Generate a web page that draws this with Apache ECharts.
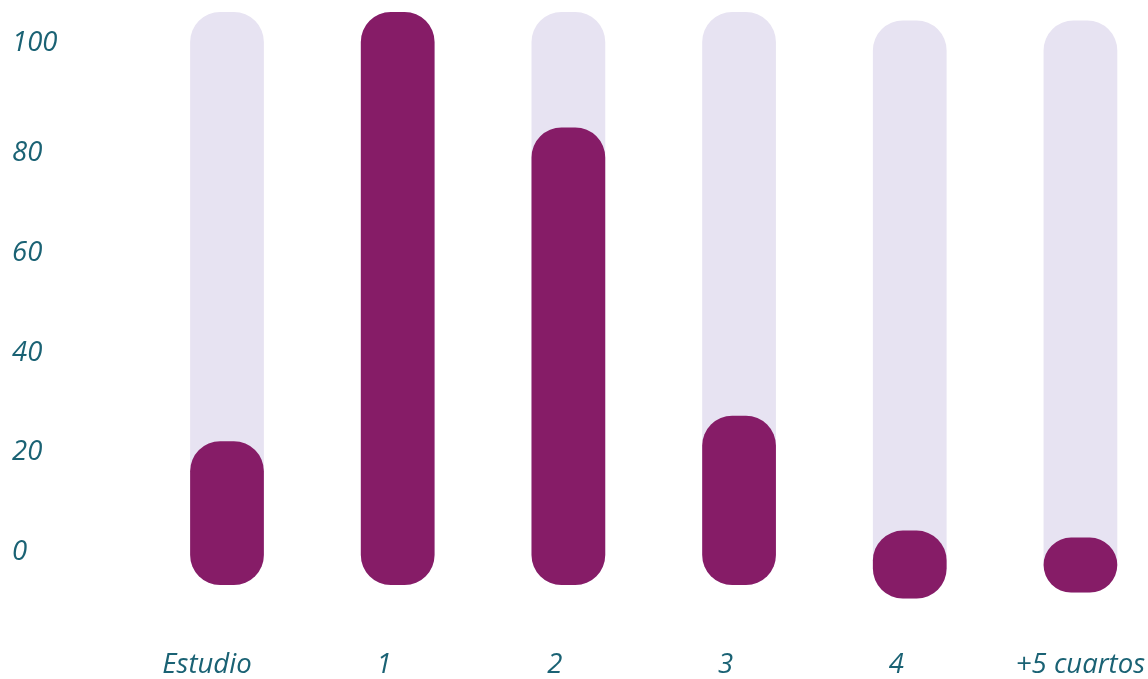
<!DOCTYPE html>
<html>
<head>
<meta charset="utf-8">
<script src="https://cdn.jsdelivr.net/npm/echarts@6/dist/echarts.min.js"></script>
<style>
  html, body { margin: 0; padding: 0; background: #ffffff; }
  #chart { width: 1148px; height: 679px; }
</style>
</head>
<body>
<div id="chart"></div>
<script>
// ---- data ----
const categories = ['Estudio', '1', '2', '3', '4', '+5 cuartos'];
// foreground pill extents (axis units)
const barLow  = [-6.5, -6.5, -6.5, -6.5, -9.2, -8.0];
const barHigh = [22.3, 108.2, 85.1, 27.4, 4.4, 3.0];
// background track extents (axis units)
const trackLow  = [-6.5, -6.5, -6.5, -6.5, -9.2, -8.0];
const trackHigh = [108.2, 108.2, 108.2, 108.2, 106.5, 106.5];
// y-axis tick labels
const yTicks = [0, 20, 40, 60, 80, 100];

const TEXT = '#1a6274';
const FG = '#861c67';
const BG = '#e7e3f2';
const FONT = '"Open Sans", "Noto Sans", sans-serif';
const FS = 27.5;

function pill(color) {
  return function (params, api) {
    const i = api.value(0);
    const x = api.coord([i, 0])[0];
    const top = api.coord([i, api.value(2)])[1];
    const bot = api.coord([i, api.value(1)])[1];
    const w = api.size([1, 0])[0] * 0.432;
    const h = bot - top;
    const r = Math.min(30, h / 2, w / 2);
    return {
      type: 'rect',
      shape: { x: x - w / 2, y: top, width: w, height: h, r: r },
      style: { fill: color }
    };
  };
}

const chart = echarts.init(document.getElementById('chart'), null, { renderer: 'canvas' });
chart.setOption({
  animation: false,
  backgroundColor: '#ffffff',
  grid: { left: 227, right: 66.5, top: 3, bottom: 26, containLabel: false },
  xAxis: {
    type: 'category',
    data: categories,
    boundaryGap: false,
    axisLine: { show: false },
    axisTick: { show: false },
    splitLine: { show: false },
    axisLabel: {
      margin: -1,
      formatter: function (v, idx) {
        if (idx === 0) return '{e|' + v + '}';
        if (idx === categories.length - 1) return '{l|' + v + '}';
        return '{n|' + v + '}';
      },
      rich: {
        e: { fontFamily: FONT, fontStyle: 'italic', fontSize: FS, lineHeight: 28, color: TEXT, padding: [0, 40, 0, 0] },
        n: { fontFamily: FONT, fontStyle: 'italic', fontSize: FS, lineHeight: 28, color: TEXT, padding: [0, 27, 0, 0] },
        l: { fontFamily: FONT, fontStyle: 'italic', fontSize: FS, lineHeight: 28, color: TEXT }
      }
    }
  },
  yAxis: {
    type: 'value',
    min: -20,
    max: 110,
    interval: 20,
    axisLine: { show: false },
    axisTick: { show: false },
    splitLine: { show: false },
    axisLabel: {
      align: 'left',
      margin: 215,
      formatter: function (v) {
        if (yTicks.indexOf(v) < 0) return '';
        if (v === 100) return '{t|' + v + '}';
        return '{d|' + v + '}';
      },
      rich: {
        d: { fontFamily: FONT, fontStyle: 'italic', fontSize: FS, color: TEXT },
        t: { fontFamily: FONT, fontStyle: 'italic', fontSize: FS, color: TEXT, padding: [0, 0, 20, 0] }
      }
    }
  },
  series: [
    {
      type: 'custom',
      name: 'track',
      renderItem: pill(BG),
      encode: { x: 0, y: [1, 2] },
      data: categories.map((c, i) => [i, trackLow[i], trackHigh[i]]),
      z: 1
    },
    {
      type: 'custom',
      name: 'value',
      renderItem: pill(FG),
      encode: { x: 0, y: [1, 2] },
      data: categories.map((c, i) => [i, barLow[i], barHigh[i]]),
      z: 2
    }
  ]
});
</script>
</body>
</html>
